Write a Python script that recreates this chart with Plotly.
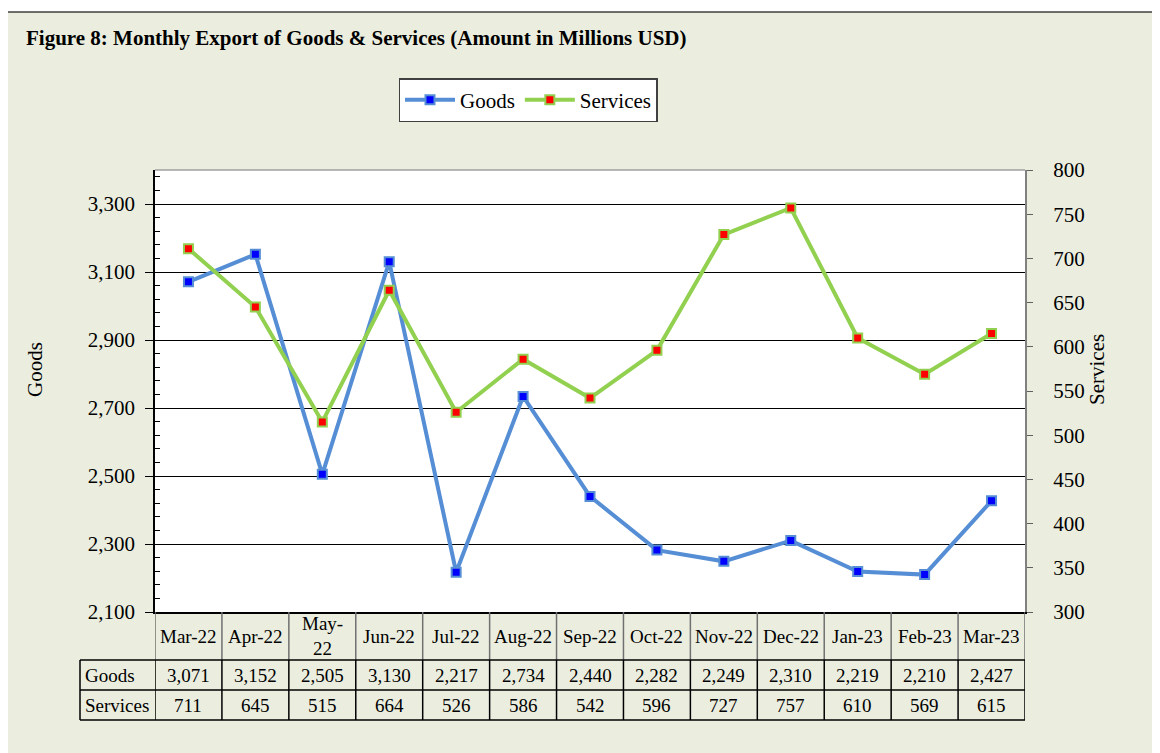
import plotly.graph_objects as go

# data
months = ["Mar-22", "Apr-22", "May-22", "Jun-22", "Jul-22", "Aug-22", "Sep-22",
          "Oct-22", "Nov-22", "Dec-22", "Jan-23", "Feb-23", "Mar-23"]
header_labels = ["Mar-22", "Apr-22", "May-<br>22", "Jun-22", "Jul-22", "Aug-22", "Sep-22",
                 "Oct-22", "Nov-22", "Dec-22", "Jan-23", "Feb-23", "Mar-23"]
goods = [3071, 3152, 2505, 3130, 2217, 2734, 2440, 2282, 2249, 2310, 2219, 2210, 2427]
services = [711, 645, 515, 664, 526, 586, 542, 596, 727, 757, 610, 569, 615]

# the page body has an 8px margin, so the figure is shrunk by that amount
OFF = 8
W, H = 1160 - OFF, 753 - OFF
L, R, T, B = 155 - OFF, 135, 170 - OFF, 141
PW, PH = W - L - R, H - T - B

BG = "#EBEEDF"
FONT = "Liberation Serif, Times New Roman, serif"
GOODS_LINE = "#558ED5"
SERV_LINE = "#92D050"


def px_x(p):
    # page pixel -> paper x
    return (p - OFF - L) / PW


def px_y(p):
    # page pixel -> paper y
    return (H - B - (p - OFF)) / PH


def f(size):
    return dict(family=FONT, size=size, color="black")


fig = go.Figure()

fig.add_trace(go.Scatter(
    x=months, y=goods, name="Goods", mode="lines+markers",
    line=dict(color=GOODS_LINE, width=4),
    marker=dict(symbol="square", size=9, color="#0000FF",
                line=dict(color=GOODS_LINE, width=2)),
))
fig.add_trace(go.Scatter(
    x=months, y=services, name="Services", mode="lines+markers", yaxis="y2",
    line=dict(color=SERV_LINE, width=4),
    marker=dict(symbol="square", size=9, color="#FF0000",
                line=dict(color=SERV_LINE, width=2)),
))

shapes = []
# page background with border
shapes.append(dict(type="rect", xref="paper", yref="paper", layer="below",
                   x0=px_x(7), x1=px_x(1200), y0=px_y(800), y1=px_y(12),
                   fillcolor=BG, line=dict(color="#404040", width=1.5)))
# white plot area
shapes.append(dict(type="rect", xref="paper", yref="paper", layer="below",
                   x0=0, x1=1, y0=0, y1=1, fillcolor="white", line=dict(width=0)))
# top border of plot area
shapes.append(dict(type="line", xref="paper", yref="paper", x0=0, x1=1, y0=1, y1=1,
                   line=dict(color="#A0A0A0", width=1.5)))

# data table beneath the plot
y_hdr = px_y(660)
y_row1 = px_y(690)
y_row2 = px_y(720)
x_lab = px_x(80)
for i in range(len(months) + 1):
    xb = i - 0.5
    shapes.append(dict(type="line", xref="x", yref="paper", x0=xb, x1=xb, y0=0, y1=y_hdr,
                       line=dict(color="#707070", width=1.5)))
    shapes.append(dict(type="line", xref="x", yref="paper", x0=xb, x1=xb, y0=y_hdr, y1=y_row2,
                       line=dict(color="black", width=1.5)))
shapes.append(dict(type="line", xref="paper", yref="paper", x0=x_lab, x1=x_lab,
                   y0=y_hdr, y1=y_row2, line=dict(color="black", width=1.5)))
for yy in (y_hdr, y_row1, y_row2):
    shapes.append(dict(type="line", xref="paper", yref="paper", x0=x_lab, x1=1,
                       y0=yy, y1=yy, line=dict(color="black", width=1.5)))

TBL = 19
annotations = []
for m, lab, g, s in zip(months, header_labels, goods, services):
    annotations.append(dict(x=m, y=y_hdr / 2, xref="x", yref="paper", text=lab,
                            xanchor="center", yanchor="middle", showarrow=False,
                            font=f(TBL)))
    annotations.append(dict(x=m, y=(y_hdr + y_row1) / 2, xref="x", yref="paper",
                            text=f"{g:,}", xanchor="center", yanchor="middle",
                            showarrow=False, font=f(TBL)))
    annotations.append(dict(x=m, y=(y_row1 + y_row2) / 2, xref="x", yref="paper",
                            text=f"{s:,}", xanchor="center", yanchor="middle",
                            showarrow=False, font=f(TBL)))
for name, yy in (("Goods", (y_hdr + y_row1) / 2), ("Services", (y_row1 + y_row2) / 2)):
    annotations.append(dict(x=px_x(83), y=yy, xref="paper", yref="paper", text=name,
                            xanchor="left", yanchor="middle", showarrow=False,
                            font=f(TBL)))

# title and axis titles
annotations.append(dict(x=px_x(24), y=px_y(38), xref="paper", yref="paper",
                        text="<b>Figure 8: Monthly Export of Goods & Services (Amount in Millions USD)</b>",
                        xanchor="left", yanchor="middle", showarrow=False, font=f(21)))
annotations.append(dict(x=px_x(35), y=px_y(370), xref="paper", yref="paper", text="Goods",
                        textangle=-90, xanchor="center", yanchor="middle", showarrow=False,
                        font=f(21)))
annotations.append(dict(x=px_x(1097), y=px_y(370), xref="paper", yref="paper", text="Services",
                        textangle=-90, xanchor="center", yanchor="middle", showarrow=False,
                        font=f(21)))

fig.update_layout(
    width=W, height=H,
    margin=dict(l=L, r=R, t=T, b=B),
    paper_bgcolor="white",
    plot_bgcolor="rgba(0,0,0,0)",
    font=f(21),
    shapes=shapes,
    annotations=annotations,
    showlegend=True,
    legend=dict(orientation="h", x=px_x(528), xanchor="center", y=px_y(78), yanchor="top",
                bgcolor="white", bordercolor="#404040", borderwidth=1.5,
                font=f(21), itemwidth=50),
    xaxis=dict(type="category", range=[-0.5, len(months) - 0.5], showticklabels=False,
               showgrid=False, zeroline=False, showline=True, linecolor="black",
               linewidth=1.5, ticks=""),
    yaxis=dict(range=[2100, 3400], tick0=2100, dtick=200, tickformat=",",
               showgrid=True, gridcolor="black", gridwidth=1, zeroline=False,
               showline=True, linecolor="black", linewidth=1.5,
               ticks="outside", ticklen=8, tickcolor="black", ticklabelstandoff=6,
               minor=dict(ticks="inside", dtick=40, tick0=2100, ticklen=5, tickcolor="black",
                          showgrid=False),
               tickfont=f(21)),
    yaxis2=dict(range=[300, 800], dtick=50, overlaying="y", side="right",
                showgrid=False, zeroline=False, showline=True, linecolor="#808080",
                linewidth=2, ticks="outside", ticklen=6, tickcolor="#606060",
                ticklabelstandoff=16, tickfont=f(21)),
)

fig.write_html("out.html")
